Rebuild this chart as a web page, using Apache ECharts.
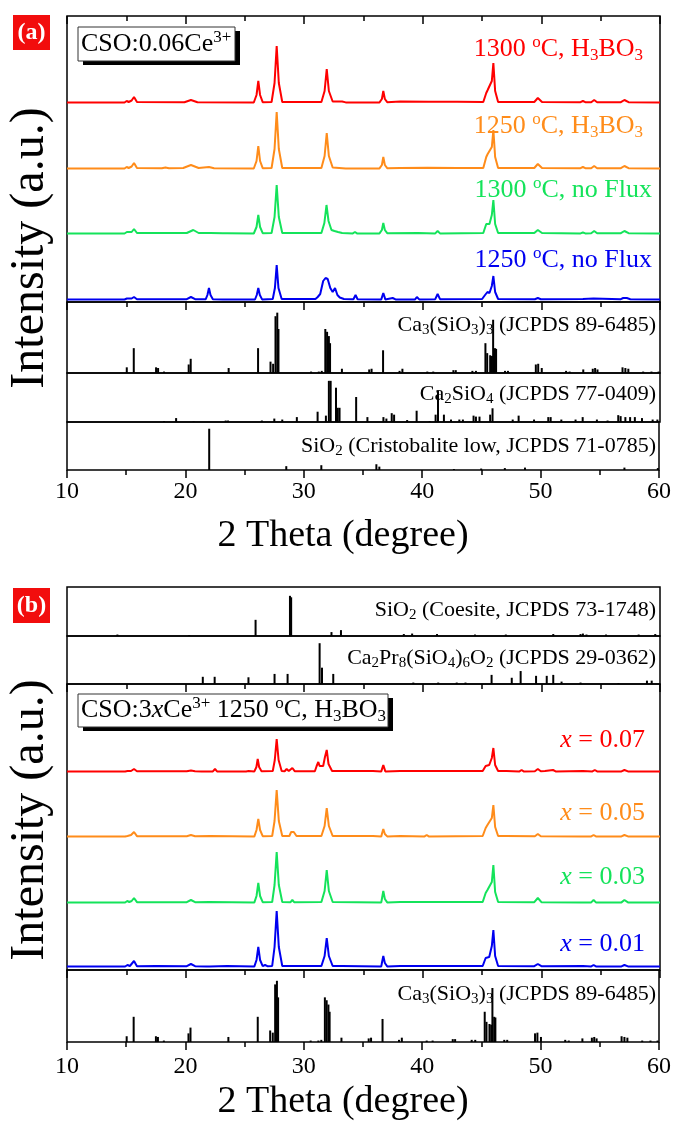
<!DOCTYPE html>
<html>
<head>
<meta charset="utf-8">
<script src="https://cdn.jsdelivr.net/npm/echarts@6/dist/echarts.min.js"></script>
<style>
html,body{margin:0;padding:0;background:#fff;}
#chart{width:674px;height:1123px;}
</style>
</head>
<body>
<div id="chart"></div>
<script>
// 2 theta axis (degree)
var thetaMin = 10, thetaMax = 60, thetaStep = 10;

// panel (a) measured patterns, [2theta, intensity (a.u.)]
var redA = [[10,0.5],[14.85,0.5],[15.03,2],[15.2,1],[15.45,2.5],[15.65,6],[15.9,1],
  [19.9,0.8],[20.45,3],[21.0,0.8],[25.75,0.5],[25.98,8],[26.13,22],[26.28,8],[26.5,0.8],
  [27.25,1],[27.5,20],[27.68,57],[27.86,20],[28.15,1],[31.45,1],[31.72,12],[31.9,34],[32.08,12],[32.4,1.5],[33.2,1.5],[33.5,0.6],
  [36.35,0.6],[36.55,4],[36.67,12],[36.8,4],[37.0,0.8],[38.1,1.5],[40.5,1.3],[42.9,1.2],
  [45.1,1],[45.35,10],[45.47,13],[45.62,11],[45.82,22],[45.95,40],[46.1,12],[46.35,1],
  [49.4,1],[49.7,5],[50.05,1],[53.3,0.8],[53.5,2],[53.7,0.8],[54.2,0.8],[54.45,3],[54.7,0.8],
  [56.7,0.8],[57.0,3],[57.35,0.8],[60,0.5]];
var orangeA = [[10,0.5],[14.85,0.5],[15.03,2],[15.2,1],[15.45,2.5],[15.65,6],[15.9,1],
  [18.0,0.8],[18.3,1.5],[18.6,0.8],[19.8,1],[20.45,4],[21.1,1],[21.97,2],[22.4,0.8],
  [25.75,0.5],[25.98,8],[26.13,23],[26.28,8],[26.5,0.8],[27.25,1],[27.5,20],[27.68,57],[27.86,20],[28.15,1],
  [31.45,1],[31.72,13],[31.9,36],[32.08,13],[32.4,1.5],[33.5,0.6],[36.35,0.6],[36.55,4],[36.67,12],[36.8,4],[37.0,0.8],
  [38.1,1],[40.4,1.2],[42.9,1],[45.1,1],[45.35,12],[45.47,15],[45.62,13],[45.82,22],[45.95,39],[46.1,12],[46.35,1],
  [49.4,1],[49.7,5],[50.05,1],[53.3,0.8],[53.5,2],[53.7,0.8],[54.2,0.8],[54.45,3],[54.7,0.8],
  [56.7,0.8],[57.0,3],[57.35,0.8],[60,0.5]];
var greenA = [[10,0.5],[14.85,0.5],[15.05,2],[15.2,1],[15.45,2],[15.65,5],[15.9,1],
  [20.1,1],[20.65,4],[21.1,1],[21.75,1],[21.9,3],[22.1,1],[23.15,0.8],[23.3,2],[23.5,0.8],
  [25.75,0.5],[25.98,7],[26.13,19],[26.28,7],[26.5,0.8],[27.25,1],[27.5,17],[27.68,49],[27.86,17],[28.15,1],[29.1,1],
  [31.45,1],[31.7,11],[31.88,29],[32.05,13],[32.3,4],[32.55,3],[32.68,5],[32.85,2],[33.2,1],
  [34.1,0.6],[34.28,2],[34.45,0.6],[36.35,0.6],[36.55,4],[36.67,11],[36.8,4],[37.0,0.8],
  [39.6,1],[41.05,0.6],[41.25,3],[41.45,0.6],[45.1,1],[45.35,10],[45.47,12],[45.62,10],[45.82,19],[45.95,34],[46.1,10],[46.35,1],
  [49.4,1],[49.7,4],[50.05,1],[53.3,0.6],[53.5,1.5],[53.7,0.6],[54.2,0.8],[54.45,3],[54.7,0.8],
  [56.7,0.8],[57.0,3],[57.35,0.8],[60,0.5]];
var blueA = [[10,0.5],[14.85,0.5],[15.05,1.5],[15.2,1],[15.45,1.5],[15.65,3],[15.9,0.8],
  [20.1,0.8],[20.45,3],[20.8,0.8],[21.7,0.8],[21.84,5],[21.97,12],[22.1,5],[22.3,0.8],[23.15,0.6],[23.3,2],[23.5,0.6],
  [25.85,0.5],[26.0,5],[26.13,12],[26.26,5],[26.45,0.6],[27.35,1],[27.53,12],[27.68,35],[27.83,12],[28.1,1],[28.5,1],[30.2,1],
  [30.95,1],[31.14,3],[31.35,6],[31.6,19],[31.8,22],[31.98,21],[32.2,12],[32.4,8],[32.6,12],[32.8,5],[33.0,2.5],[33.16,4],[33.35,1],
  [34.15,0.8],[34.33,5],[34.5,0.8],[36.5,0.6],[36.67,7],[36.84,0.6],[37.46,2],[37.7,0.6],
  [39.35,0.6],[39.5,3],[39.7,0.6],[41.05,0.8],[41.25,6],[41.45,0.8],
  [45.0,1],[45.25,5],[45.45,8],[45.62,7],[45.82,14],[45.95,24],[46.1,8],[46.35,1],
  [49.45,0.8],[49.7,2],[49.95,0.8],[53.5,1],[54.4,1.5],[56.7,0.8],[56.9,2],[57.2,2],[57.5,0.8],[60,0.5]];

// panel (b) measured patterns
var redB = [[10,0.5],[14.9,0.5],[15.1,1],[15.4,1],[15.65,3],[15.9,0.8],
  [20.1,0.8],[20.45,1.5],[20.8,0.8],[21.35,0.6],[21.5,2],[21.65,0.6],[22.3,0.6],[22.48,3],[22.65,0.6],
  [25.1,0.6],[25.3,1],[25.8,0.6],[25.97,5],[26.08,13],[26.2,5],[26.4,0.8],
  [27.35,1],[27.52,12],[27.68,33],[27.84,12],[28.1,1],[28.35,0.8],[28.52,3],[28.7,1],[28.85,1],[29.0,4],[29.2,0.8],
  [30.9,0.8],[31.05,6],[31.19,10],[31.3,6],[31.45,4],[31.6,6],[31.75,15],[31.9,22],[32.05,8],[32.35,1],[33.2,1],
  [35.8,1],[36.5,0.6],[36.67,7],[36.84,0.6],[38.1,1],[40.47,1],[42.9,1],
  [45.05,1],[45.3,6],[45.45,8],[45.6,7],[45.82,14],[45.95,24],[46.1,7],[46.35,1],
  [47.06,1],[48.15,0.6],[48.33,2],[48.5,0.6],[49.45,0.8],[49.7,3],[49.95,0.8],[50.3,1],[50.98,2],[51.2,0.6],
  [53.5,1],[54.3,0.6],[54.5,2],[54.7,0.6],[56.75,0.6],[57.0,2],[57.3,0.6],[60,0.5]];
var orangeB = [[10,0.5],[14.9,0.5],[15.1,1],[15.4,2],[15.65,5],[15.9,0.8],
  [20.1,0.8],[20.45,2],[20.8,0.8],[22.06,1],[25.8,0.6],[25.98,7],[26.13,18],[26.28,7],[26.5,0.8],
  [27.3,1],[27.5,16],[27.68,47],[27.86,16],[28.15,1],[28.75,1],[28.9,5],[29.0,7],[29.12,5],[29.35,1],
  [31.45,1],[31.72,11],[31.9,29],[32.08,11],[32.4,1],[35.8,1],[36.5,0.6],[36.55,3],[36.67,8],[36.8,3],[37.0,0.6],
  [38.1,1],[40.15,0.6],[40.33,2],[40.5,0.6],[45.05,1],[45.3,9],[45.45,12],[45.6,10],[45.82,19],[45.95,32],[46.1,10],[46.35,1],
  [47.0,1],[49.45,0.8],[49.7,3],[49.95,0.8],[53.35,0.6],[53.5,1],[53.65,0.6],[54.2,0.6],[54.4,2],[54.6,0.6],
  [56.75,0.6],[57.0,2],[57.3,0.6],[60,0.5]];
var greenB = [[10,0.5],[14.9,0.5],[15.08,2],[15.25,1],[15.45,2],[15.65,5],[15.9,0.8],
  [20.1,0.8],[20.45,3],[20.8,0.8],[22.0,1],[25.8,0.6],[25.98,7],[26.13,20],[26.28,7],[26.5,0.8],
  [27.3,1],[27.5,18],[27.68,51],[27.86,18],[28.15,1],[28.85,0.8],[29.0,3],[29.15,0.8],
  [31.45,1],[31.72,12],[31.9,33],[32.08,12],[32.4,1],[36.5,0.6],[36.55,4],[36.67,12],[36.8,4],[37.0,0.6],
  [38.1,1],[40.4,1],[42.9,1],[45.05,1],[45.3,10],[45.45,13],[45.6,11],[45.82,21],[45.95,38],[46.1,11],[46.35,1],
  [49.4,0.8],[49.7,5],[50.0,0.8],[53.35,0.6],[53.5,1.5],[53.65,0.6],[54.2,0.6],[54.4,3],[54.6,0.6],
  [56.75,0.6],[57.0,3],[57.3,0.6],[60,0.5]];
var blueB = [[10,0.5],[14.9,0.5],[15.1,2],[15.3,1],[15.45,3],[15.65,6],[15.9,0.8],
  [17.5,1],[20.1,0.8],[20.45,3],[20.8,0.8],[21.75,0.6],[21.9,2],[22.05,0.6],[23.5,1],
  [25.8,0.6],[25.98,7],[26.13,20],[26.28,7],[26.5,0.8],[26.7,2],[26.9,0.8],
  [27.3,1],[27.5,20],[27.68,56],[27.86,20],[28.15,1],[31.45,1],[31.72,11],[31.9,29],[32.08,11],[32.4,1],[33.2,1],
  [36.5,0.6],[36.55,4],[36.67,11],[36.8,4],[37.0,0.6],[38.1,1],[40.4,1],[42.6,1],
  [45.05,1],[45.3,9],[45.45,11],[45.6,10],[45.82,21],[45.95,37],[46.1,11],[46.35,1],
  [49.4,0.8],[49.7,3],[50.0,0.8],[53.5,1],[54.2,0.6],[54.4,2],[54.6,0.6],[56.75,0.6],[57.0,2],[57.3,0.6],[60,0.5]];

// stacking offsets: red, orange, green, blue
var offsetsA = [199, 133, 68, 2];
var offsetsB = [198, 133, 67, 3];

// reference cards, [2theta, relative intensity %]
var ca3SiO3Card = [[15.04,8],[15.63,35],[17.51,8],[17.68,7],[18.18,2],[20.26,12],[20.43,20],[23.63,7],[26.11,35],
  [27.16,16],[27.38,13],[27.58,80],[27.73,85],[27.83,62],[30.58,2],[31.23,2],[31.48,3],[31.78,62],[31.93,58],
  [32.08,52],[32.18,42],[33.18,6],[35.48,5],[35.68,6],[36.65,32],[38.04,3],[38.28,6],[40.38,2],[40.88,2],
  [42.58,4],[42.78,4],[44.18,3],[44.48,3],[45.28,42],[45.43,28],[45.68,25],[45.83,24],[45.93,75],[46.08,35],
  [46.18,34],[46.93,3],[47.18,3],[49.53,12],[49.73,13],[50.03,7],[52.08,3],[52.38,2],[53.53,5],[54.33,6],
  [54.53,7],[54.73,5],[56.84,8],[57.08,7],[57.33,6],[58.58,2],[59.28,2],[59.88,2]];
var ca2SiO4Card = [[18.18,2],[19.2,8],[20.68,1],[23.38,3],[23.58,3],[26.43,3],[27.48,7],[28.15,5],[29.38,10],
  [31.13,21],[31.83,13],[32.08,84],[32.23,84],[32.68,70],[32.83,29],[32.98,29],[34.38,51],[35.33,10],
  [36.68,10],[36.93,7],[37.38,18],[37.58,15],[38.68,4],[39.48,23],[40.58,2],[41.08,15],[41.28,64],[41.78,15],
  [42.38,5],[43.08,5],[43.38,5],[44.28,13],[44.48,11],[44.78,11],[45.68,15],[45.88,28],[47.58,5],[48.08,13],
  [49.38,5],[50.58,10],[50.78,10],[51.68,5],[52.88,5],[53.48,10],[54.68,5],[55.58,3],[56.48,14],[56.68,12],
  [57.08,10],[57.48,10],[57.88,10],[58.48,8],[59.38,5],[59.78,5]];
var cristobaliteCard = [[22.01,86],[28.52,8],[31.48,10],[36.13,12],[36.38,7],[42.68,2],[44.98,3],[46.98,4],
  [48.68,5],[57.08,5],[59.9,4]];
var coesiteCard = [[14.25,3],[20.3,2],[25.9,33],[28.8,82],[28.9,79],[32.3,8],[33.1,12],[38.4,4],[39.1,5],
  [41.2,4],[44.4,3],[47.0,3],[51.0,4],[53.3,4],[53.5,5],[53.8,3],[55.45,3],[58.2,3],[59.6,4]];
var ca2Pr8Card = [[21.45,15],[22.45,15],[25.3,14],[27.5,21],[28.6,21],[31.3,85],[31.5,34],[32.45,21],[39.2,3],
  [41.3,3],[42.86,3],[43.6,3],[45.8,19],[47.5,13],[48.25,27],[49.55,17],[50.45,17],[51.0,19],[51.7,5],
  [53.3,3],[56.5,2],[58.9,7],[59.3,7]];

var sampleColors = ['#ff0000', '#ff8c1a', '#14e35a', '#0000f0'];
var FONT = '"Liberation Serif", "Times New Roman", serif';

var chart = echarts.init(document.getElementById('chart'));

var L = 67, R = 14;
var gridBoxes = [[16, 286], [302, 71], [373, 49], [422, 48], [587, 49], [636, 48], [684, 286], [970, 72]];
var grids = gridBoxes.map(function (g) {
  return { left: L, right: R, top: g[0], height: g[1], show: true, borderColor: '#000', borderWidth: 1.5 };
});

function mkX(gi, o) {
  o = o || {};
  var ticks = !!o.ticks;
  return {
    gridIndex: gi, type: 'value', min: thetaMin, max: thetaMax, interval: thetaStep,
    position: o.position || 'bottom',
    axisLine: { show: false }, splitLine: { show: false },
    axisTick: { show: ticks, inside: !!o.inside, length: 8, lineStyle: { color: '#000', width: 1.5 } },
    minorTick: { show: ticks, splitNumber: 2, length: 5, lineStyle: { color: '#000', width: 1.5 } },
    axisLabel: { show: !!o.labels, fontSize: 24, fontFamily: FONT, color: '#000', margin: o.margin || 10,
      showMinLabel: true, showMaxLabel: true }
  };
}

var xAxes = [
  mkX(0, { ticks: true }),                       // 0 samples a bottom
  mkX(0, { ticks: true, inside: true, position: 'top' }), // 1 samples a top
  mkX(1), mkX(2),                                // 2,3
  mkX(3, { ticks: true, labels: true, margin: 10 }),     // 4
  mkX(4),                                        // 5
  mkX(5, { ticks: true }),                       // 6
  mkX(6, { ticks: true }),                       // 7
  mkX(7, { ticks: true, labels: true, margin: 13 })      // 8
];
var yMax = [286, 100, 100, 100, 100, 100, 286, 100];
var yAxes = yMax.map(function (m, i) { return { gridIndex: i, type: 'value', min: 0, max: m, show: false }; });

function lineSeries(data, off, color, xi, yi) {
  return {
    type: 'line', xAxisIndex: xi, yAxisIndex: yi, showSymbol: false, symbol: 'none',
    lineStyle: { color: color, width: 2 }, animation: false,
    data: data.map(function (p) { return [p[0], p[1] + off]; })
  };
}
function stickSeries(data, xi, yi) {
  return { type: 'bar', xAxisIndex: xi, yAxisIndex: yi, barWidth: 2, animation: false,
    itemStyle: { color: '#000' }, data: data };
}

var samplesA = [redA, orangeA, greenA, blueA];
var samplesB = [redB, orangeB, greenB, blueB];
var series = [];
samplesA.forEach(function (d, i) { series.push(lineSeries(d, offsetsA[i], sampleColors[i], 0, 0)); });
samplesB.forEach(function (d, i) { series.push(lineSeries(d, offsetsB[i], sampleColors[i], 7, 6)); });
series.push(stickSeries(ca3SiO3Card, 2, 1));
series.push(stickSeries(ca2SiO4Card, 3, 2));
series.push(stickSeries(cristobaliteCard, 4, 3));
series.push(stickSeries(coesiteCard, 5, 4));
series.push(stickSeries(ca2Pr8Card, 6, 5));
series.push(stickSeries(ca3SiO3Card, 8, 7));

function rich(size) {
  var lh = Math.round(size * 1.15), sh = Math.round(size * 0.6), ss = Math.round(size * 0.66);
  return {
    n: { fontSize: size, fontFamily: FONT, lineHeight: lh },
    i: { fontSize: size, fontFamily: FONT, fontStyle: 'italic', lineHeight: lh },
    b: { fontSize: ss, fontFamily: FONT, verticalAlign: 'bottom', lineHeight: sh },
    p: { fontSize: ss, fontFamily: FONT, verticalAlign: 'top', lineHeight: sh }
  };
}
function label(x, y, text, color, size, align) {
  return { type: 'text', x: x, y: y, z: 100,
    style: { text: text, fill: color, align: align || 'right', verticalAlign: 'middle',
      fontSize: size, fontFamily: FONT, rich: rich(size) } };
}
function plain(x, y, text, size, rot) {
  return { type: 'text', x: x, y: y, rotation: rot || 0, z: 100,
    style: { text: text, fill: '#000', align: 'center', verticalAlign: 'middle', fontSize: size, fontFamily: FONT } };
}
function boxed(x, y, w, h) {
  return [
    { type: 'rect', z: 90, shape: { x: x + 5, y: y + 4, width: w, height: h }, style: { fill: '#000' } },
    { type: 'rect', z: 91, shape: { x: x, y: y, width: w, height: h }, style: { fill: '#fff', stroke: '#333', lineWidth: 1 } }
  ];
}
function tag(y, text) {
  return [
    { type: 'rect', z: 90, shape: { x: 13, y: y, width: 37, height: 35 }, style: { fill: '#f20d0d' } },
    { type: 'text', z: 91, x: 31.5, y: y + 17.5,
      style: { text: text, fill: '#fff', align: 'center', verticalAlign: 'middle', fontSize: 24, fontWeight: 'bold', fontFamily: FONT } }
  ];
}

var graphics = [].concat(
  tag(15, '(a)'), tag(588, '(b)'),
  boxed(78, 27, 157, 34), boxed(78, 694, 310, 33),
  [
    label(81, 44, '{n|CSO:0.06Ce}{p|3+}', '#000', 26, 'left'),
    label(81, 710, '{n|CSO:3}{i|x}{n|Ce}{p|3+}{n| 1250 }{p|o}{n|C, H}{b|3}{n|BO}{b|3}', '#000', 26, 'left'),
    label(643, 49, '{n|1300 }{p|o}{n|C, H}{b|3}{n|BO}{b|3}', sampleColors[0], 26),
    label(643, 126, '{n|1250 }{p|o}{n|C, H}{b|3}{n|BO}{b|3}', sampleColors[1], 26),
    label(652, 190, '{n|1300 }{p|o}{n|C, no Flux}', sampleColors[2], 26),
    label(652, 260, '{n|1250 }{p|o}{n|C, no Flux}', sampleColors[3], 26),
    label(645, 740, '{i|x}{n| = 0.07}', sampleColors[0], 26),
    label(645, 813, '{i|x}{n| = 0.05}', sampleColors[1], 26),
    label(645, 877, '{i|x}{n| = 0.03}', sampleColors[2], 26),
    label(645, 944, '{i|x}{n| = 0.01}', sampleColors[3], 26),
    label(656, 325, '{n|Ca}{b|3}{n|(SiO}{b|3}{n|)}{b|3}{n| (JCPDS 89-6485)}', '#000', 22),
    label(656, 394, '{n|Ca}{b|2}{n|SiO}{b|4}{n| (JCPDS 77-0409)}', '#000', 22),
    label(656, 446, '{n|SiO}{b|2}{n| (Cristobalite low, JCPDS 71-0785)}', '#000', 22),
    label(656, 610, '{n|SiO}{b|2}{n| (Coesite, JCPDS 73-1748)}', '#000', 22),
    label(656, 658, '{n|Ca}{b|2}{n|Pr}{b|8}{n|(SiO}{b|4}{n|)}{b|6}{n|O}{b|2}{n| (JCPDS 29-0362)}', '#000', 22),
    label(656, 994, '{n|Ca}{b|3}{n|(SiO}{b|3}{n|)}{b|3}{n| (JCPDS 89-6485)}', '#000', 22),
    plain(343, 536, '2 Theta (degree)', 38),
    plain(343, 1102, '2 Theta (degree)', 38),
    plain(30, 248, 'Intensity (a.u.)', 48, Math.PI / 2),
    plain(30, 820, 'Intensity (a.u.)', 48, Math.PI / 2)
  ]
);

chart.setOption({
  animation: false,
  backgroundColor: '#fff',
  grid: grids,
  xAxis: xAxes,
  yAxis: yAxes,
  series: series,
  graphic: graphics
});
</script>
</body>
</html>
